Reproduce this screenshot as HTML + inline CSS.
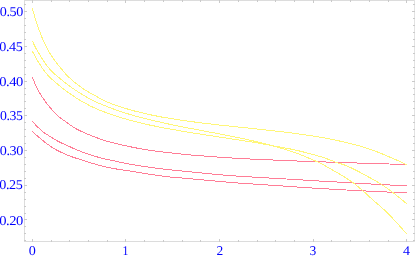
<!DOCTYPE html>
<html><head><meta charset="utf-8"><title>plot</title>
<style>
html,body{margin:0;padding:0;background:#fff;}
body{width:415px;height:258px;overflow:hidden;font-family:"Liberation Serif",serif;}
svg{display:block;position:absolute;left:0;top:0;}
</style></head><body>
<svg width="415" height="258" viewBox="0 0 415 258">
<rect width="415" height="258" fill="#ffffff"/>
<path d="M32.40,77.10 L33.40,79.76 L34.40,82.25 L35.40,84.58 L36.40,86.77 L37.40,88.79 L38.40,90.65 L39.40,92.39 L40.40,94.08 L41.40,95.70 L42.40,97.26 L43.40,98.77 L44.40,100.23 L45.40,101.67 L46.40,103.05 L47.40,104.33 L48.40,105.58 L49.40,106.78 L50.40,107.95 L51.40,109.09 L52.40,110.19 L53.40,111.27 L54.40,112.31 L55.40,113.32 L56.40,114.32 L57.40,115.28 L58.40,116.21 L59.40,117.09 L60.40,117.92 L61.40,118.68 L62.40,119.37 L63.40,120.05 L64.40,120.76 L65.40,121.48 L66.40,122.22 L67.40,122.95 L68.40,123.67 L69.40,124.39 L70.40,125.10 L71.40,125.81 L72.40,126.51 L73.40,127.18 L74.40,127.80 L75.40,128.38 L76.40,128.93 L77.40,129.46 L78.40,129.98 L79.40,130.47 L80.40,130.96 L81.40,131.43 L82.40,131.89 L83.40,132.35 L84.40,132.80 L85.40,133.24 L86.40,133.68 L87.40,134.10 L88.40,134.51 L89.40,134.92 L90.40,135.32 L91.40,135.72 L92.40,136.10 L93.40,136.48 L94.40,136.86 L95.40,137.24 L96.40,137.61 L97.40,137.98 L98.40,138.35 L99.40,138.71 L100.40,139.07 L101.40,139.42 L102.40,139.76 L103.40,140.09 L104.40,140.41 L105.40,140.72 L106.40,141.02 L107.40,141.30 L108.40,141.58 L109.40,141.86 L110.40,142.13 L111.40,142.40 L112.40,142.66 L113.40,142.91 L114.40,143.16 L115.40,143.41 L116.40,143.65 L117.40,143.89 L118.40,144.13 L119.40,144.36 L120.40,144.59 L121.40,144.82 L122.40,145.04 L123.40,145.26 L124.40,145.48 L125.40,145.70 L126.40,145.92 L127.40,146.13 L128.40,146.35 L129.40,146.56 L130.40,146.77 L131.40,146.98 L132.40,147.19 L133.40,147.39 L134.40,147.60 L135.40,147.80 L136.40,147.99 L137.40,148.19 L138.40,148.38 L139.40,148.57 L140.40,148.75 L141.40,148.93 L142.40,149.11 L143.40,149.28 L144.40,149.44 L145.40,149.61 L146.40,149.76 L147.40,149.92 L148.40,150.07 L149.40,150.21 L150.40,150.36 L151.40,150.50 L152.40,150.64 L153.40,150.77 L154.40,150.91 L155.40,151.04 L156.40,151.17 L157.40,151.29 L158.40,151.42 L159.40,151.54 L160.40,151.67 L161.40,151.79 L162.40,151.91 L163.40,152.03 L164.40,152.15 L165.40,152.27 L166.40,152.38 L167.40,152.50 L168.40,152.62 L169.40,152.73 L170.40,152.85 L171.40,152.96 L172.40,153.08 L173.40,153.19 L174.40,153.30 L175.40,153.41 L176.40,153.52 L177.40,153.63 L178.40,153.74 L179.40,153.85 L180.40,153.95 L181.40,154.06 L182.40,154.16 L183.40,154.26 L184.40,154.36 L185.40,154.46 L186.40,154.56 L187.40,154.66 L188.40,154.75 L189.40,154.85 L190.40,154.94 L191.40,155.03 L192.40,155.11 L193.40,155.20 L194.40,155.28 L195.40,155.36 L196.40,155.44 L197.40,155.52 L198.40,155.60 L199.40,155.67 L200.40,155.75 L201.40,155.83 L202.40,155.90 L203.40,155.98 L204.40,156.05 L205.40,156.13 L206.40,156.21 L207.40,156.28 L208.40,156.36 L209.40,156.43 L210.40,156.51 L211.40,156.58 L212.40,156.65 L213.40,156.73 L214.40,156.80 L215.40,156.87 L216.40,156.94 L217.40,157.01 L218.40,157.08 L219.40,157.16 L220.40,157.23 L221.40,157.30 L222.40,157.37 L223.40,157.44 L224.40,157.50 L225.40,157.57 L226.40,157.64 L227.40,157.71 L228.40,157.77 L229.40,157.84 L230.40,157.90 L231.40,157.96 L232.40,158.02 L233.40,158.09 L234.40,158.15 L235.40,158.20 L236.40,158.26 L237.40,158.32 L238.40,158.38 L239.40,158.44 L240.40,158.49 L241.40,158.55 L242.40,158.60 L243.40,158.66 L244.40,158.71 L245.40,158.77 L246.40,158.82 L247.40,158.87 L248.40,158.92 L249.40,158.97 L250.40,159.02 L251.40,159.07 L252.40,159.12 L253.40,159.16 L254.40,159.21 L255.40,159.25 L256.40,159.30 L257.40,159.34 L258.40,159.39 L259.40,159.43 L260.40,159.47 L261.40,159.51 L262.40,159.56 L263.40,159.60 L264.40,159.64 L265.40,159.68 L266.40,159.72 L267.40,159.77 L268.40,159.81 L269.40,159.85 L270.40,159.89 L271.40,159.93 L272.40,159.97 L273.40,160.02 L274.40,160.06 L275.40,160.10 L276.40,160.15 L277.40,160.19 L278.40,160.23 L279.40,160.27 L280.40,160.32 L281.40,160.36 L282.40,160.40 L283.40,160.45 L284.40,160.49 L285.40,160.53 L286.40,160.57 L287.40,160.62 L288.40,160.66 L289.40,160.70 L290.40,160.74 L291.40,160.78 L292.40,160.82 L293.40,160.86 L294.40,160.90 L295.40,160.94 L296.40,160.98 L297.40,161.02 L298.40,161.05 L299.40,161.09 L300.40,161.13 L301.40,161.16 L302.40,161.20 L303.40,161.24 L304.40,161.27 L305.40,161.31 L306.40,161.34 L307.40,161.38 L308.40,161.41 L309.40,161.44 L310.40,161.48 L311.40,161.51 L312.40,161.55 L313.40,161.58 L314.40,161.61 L315.40,161.65 L316.40,161.68 L317.40,161.71 L318.40,161.75 L319.40,161.78 L320.40,161.81 L321.40,161.85 L322.40,161.88 L323.40,161.91 L324.40,161.95 L325.40,161.98 L326.40,162.01 L327.40,162.05 L328.40,162.08 L329.40,162.11 L330.40,162.15 L331.40,162.18 L332.40,162.21 L333.40,162.24 L334.40,162.28 L335.40,162.31 L336.40,162.34 L337.40,162.37 L338.40,162.41 L339.40,162.44 L340.40,162.47 L341.40,162.50 L342.40,162.54 L343.40,162.57 L344.40,162.60 L345.40,162.63 L346.40,162.66 L347.40,162.70 L348.40,162.73 L349.40,162.76 L350.40,162.79 L351.40,162.82 L352.40,162.85 L353.40,162.89 L354.40,162.92 L355.40,162.95 L356.40,162.98 L357.40,163.01 L358.40,163.04 L359.40,163.08 L360.40,163.11 L361.40,163.14 L362.40,163.17 L363.40,163.20 L364.40,163.23 L365.40,163.26 L366.40,163.30 L367.40,163.33 L368.40,163.36 L369.40,163.39 L370.40,163.42 L371.40,163.45 L372.40,163.48 L373.40,163.51 L374.40,163.54 L375.40,163.57 L376.40,163.61 L377.40,163.64 L378.40,163.67 L379.40,163.70 L380.40,163.73 L381.40,163.76 L382.40,163.79 L383.40,163.82 L384.40,163.85 L385.40,163.88 L386.40,163.91 L387.40,163.94 L388.40,163.97 L389.40,164.00 L390.40,164.03 L391.40,164.06 L392.40,164.09 L393.40,164.12 L394.40,164.15 L395.40,164.18 L396.40,164.21 L397.40,164.24 L398.40,164.27 L399.40,164.29 L400.40,164.32 L401.40,164.35 L402.40,164.38 L403.40,164.41 L404.40,164.44 L405.40,164.47 L406.40,164.50 L406.50,164.50" fill="none" stroke="rgb(255,125,150)" stroke-width="1.0" shape-rendering="crispEdges"/>
<path d="M32.40,120.90 L33.40,122.26 L34.40,123.53 L35.40,124.67 L36.40,125.73 L37.40,126.73 L38.40,127.69 L39.40,128.62 L40.40,129.54 L41.40,130.45 L42.40,131.33 L43.40,132.16 L44.40,132.93 L45.40,133.62 L46.40,134.25 L47.40,134.85 L48.40,135.45 L49.40,136.08 L50.40,136.73 L51.40,137.39 L52.40,138.03 L53.40,138.66 L54.40,139.26 L55.40,139.83 L56.40,140.38 L57.40,140.92 L58.40,141.44 L59.40,141.95 L60.40,142.44 L61.40,142.92 L62.40,143.38 L63.40,143.83 L64.40,144.29 L65.40,144.74 L66.40,145.19 L67.40,145.64 L68.40,146.08 L69.40,146.54 L70.40,147.00 L71.40,147.46 L72.40,147.93 L73.40,148.38 L74.40,148.82 L75.40,149.24 L76.40,149.66 L77.40,150.07 L78.40,150.47 L79.40,150.88 L80.40,151.29 L81.40,151.70 L82.40,152.11 L83.40,152.51 L84.40,152.89 L85.40,153.25 L86.40,153.59 L87.40,153.93 L88.40,154.26 L89.40,154.58 L90.40,154.89 L91.40,155.20 L92.40,155.50 L93.40,155.80 L94.40,156.10 L95.40,156.40 L96.40,156.69 L97.40,156.99 L98.40,157.28 L99.40,157.56 L100.40,157.84 L101.40,158.12 L102.40,158.38 L103.40,158.63 L104.40,158.87 L105.40,159.10 L106.40,159.32 L107.40,159.53 L108.40,159.74 L109.40,159.94 L110.40,160.14 L111.40,160.34 L112.40,160.53 L113.40,160.73 L114.40,160.94 L115.40,161.15 L116.40,161.36 L117.40,161.57 L118.40,161.79 L119.40,162.01 L120.40,162.22 L121.40,162.44 L122.40,162.65 L123.40,162.86 L124.40,163.06 L125.40,163.26 L126.40,163.46 L127.40,163.65 L128.40,163.83 L129.40,164.01 L130.40,164.19 L131.40,164.37 L132.40,164.54 L133.40,164.71 L134.40,164.88 L135.40,165.05 L136.40,165.22 L137.40,165.38 L138.40,165.54 L139.40,165.70 L140.40,165.86 L141.40,166.01 L142.40,166.17 L143.40,166.32 L144.40,166.47 L145.40,166.62 L146.40,166.77 L147.40,166.91 L148.40,167.06 L149.40,167.20 L150.40,167.34 L151.40,167.48 L152.40,167.62 L153.40,167.76 L154.40,167.90 L155.40,168.03 L156.40,168.16 L157.40,168.29 L158.40,168.42 L159.40,168.55 L160.40,168.68 L161.40,168.80 L162.40,168.93 L163.40,169.05 L164.40,169.17 L165.40,169.29 L166.40,169.40 L167.40,169.52 L168.40,169.63 L169.40,169.74 L170.40,169.85 L171.40,169.96 L172.40,170.07 L173.40,170.17 L174.40,170.27 L175.40,170.38 L176.40,170.48 L177.40,170.58 L178.40,170.67 L179.40,170.77 L180.40,170.87 L181.40,170.97 L182.40,171.06 L183.40,171.16 L184.40,171.26 L185.40,171.36 L186.40,171.45 L187.40,171.55 L188.40,171.65 L189.40,171.75 L190.40,171.85 L191.40,171.95 L192.40,172.05 L193.40,172.15 L194.40,172.25 L195.40,172.35 L196.40,172.45 L197.40,172.56 L198.40,172.66 L199.40,172.76 L200.40,172.86 L201.40,172.96 L202.40,173.06 L203.40,173.15 L204.40,173.25 L205.40,173.35 L206.40,173.45 L207.40,173.54 L208.40,173.64 L209.40,173.73 L210.40,173.83 L211.40,173.92 L212.40,174.02 L213.40,174.11 L214.40,174.21 L215.40,174.30 L216.40,174.39 L217.40,174.49 L218.40,174.58 L219.40,174.67 L220.40,174.76 L221.40,174.85 L222.40,174.94 L223.40,175.03 L224.40,175.12 L225.40,175.20 L226.40,175.29 L227.40,175.37 L228.40,175.45 L229.40,175.53 L230.40,175.61 L231.40,175.68 L232.40,175.76 L233.40,175.83 L234.40,175.90 L235.40,175.97 L236.40,176.04 L237.40,176.11 L238.40,176.17 L239.40,176.24 L240.40,176.30 L241.40,176.37 L242.40,176.43 L243.40,176.50 L244.40,176.56 L245.40,176.62 L246.40,176.68 L247.40,176.75 L248.40,176.81 L249.40,176.87 L250.40,176.93 L251.40,176.99 L252.40,177.05 L253.40,177.11 L254.40,177.17 L255.40,177.23 L256.40,177.29 L257.40,177.34 L258.40,177.40 L259.40,177.46 L260.40,177.51 L261.40,177.57 L262.40,177.63 L263.40,177.68 L264.40,177.74 L265.40,177.79 L266.40,177.85 L267.40,177.90 L268.40,177.96 L269.40,178.02 L270.40,178.07 L271.40,178.13 L272.40,178.19 L273.40,178.25 L274.40,178.30 L275.40,178.36 L276.40,178.42 L277.40,178.48 L278.40,178.54 L279.40,178.59 L280.40,178.65 L281.40,178.71 L282.40,178.77 L283.40,178.83 L284.40,178.88 L285.40,178.94 L286.40,179.00 L287.40,179.06 L288.40,179.12 L289.40,179.18 L290.40,179.24 L291.40,179.30 L292.40,179.36 L293.40,179.42 L294.40,179.48 L295.40,179.54 L296.40,179.60 L297.40,179.66 L298.40,179.73 L299.40,179.79 L300.40,179.85 L301.40,179.92 L302.40,179.98 L303.40,180.04 L304.40,180.11 L305.40,180.17 L306.40,180.24 L307.40,180.30 L308.40,180.36 L309.40,180.43 L310.40,180.49 L311.40,180.55 L312.40,180.62 L313.40,180.68 L314.40,180.74 L315.40,180.80 L316.40,180.86 L317.40,180.92 L318.40,180.98 L319.40,181.03 L320.40,181.09 L321.40,181.15 L322.40,181.20 L323.40,181.26 L324.40,181.31 L325.40,181.36 L326.40,181.42 L327.40,181.47 L328.40,181.52 L329.40,181.58 L330.40,181.63 L331.40,181.68 L332.40,181.74 L333.40,181.79 L334.40,181.84 L335.40,181.90 L336.40,181.95 L337.40,182.01 L338.40,182.07 L339.40,182.13 L340.40,182.19 L341.40,182.24 L342.40,182.30 L343.40,182.36 L344.40,182.42 L345.40,182.48 L346.40,182.54 L347.40,182.60 L348.40,182.66 L349.40,182.72 L350.40,182.78 L351.40,182.84 L352.40,182.90 L353.40,182.96 L354.40,183.02 L355.40,183.08 L356.40,183.14 L357.40,183.20 L358.40,183.26 L359.40,183.32 L360.40,183.38 L361.40,183.44 L362.40,183.50 L363.40,183.56 L364.40,183.62 L365.40,183.68 L366.40,183.74 L367.40,183.79 L368.40,183.85 L369.40,183.91 L370.40,183.97 L371.40,184.02 L372.40,184.08 L373.40,184.13 L374.40,184.19 L375.40,184.24 L376.40,184.30 L377.40,184.35 L378.40,184.41 L379.40,184.46 L380.40,184.51 L381.40,184.57 L382.40,184.62 L383.40,184.67 L384.40,184.73 L385.40,184.78 L386.40,184.83 L387.40,184.89 L388.40,184.94 L389.40,184.99 L390.40,185.05 L391.40,185.10 L392.40,185.15 L393.40,185.21 L394.40,185.26 L395.40,185.31 L396.40,185.37 L397.40,185.42 L398.40,185.47 L399.40,185.53 L400.40,185.58 L401.40,185.63 L402.40,185.68 L403.40,185.74 L404.40,185.79 L405.40,185.84 L406.40,185.89 L406.50,185.90" fill="none" stroke="rgb(255,125,150)" stroke-width="1.0" shape-rendering="crispEdges"/>
<path d="M32.40,131.10 L33.40,132.23 L34.40,133.30 L35.40,134.28 L36.40,135.19 L37.40,136.06 L38.40,136.91 L39.40,137.75 L40.40,138.59 L41.40,139.43 L42.40,140.25 L43.40,141.06 L44.40,141.85 L45.40,142.61 L46.40,143.35 L47.40,144.08 L48.40,144.79 L49.40,145.49 L50.40,146.19 L51.40,146.88 L52.40,147.56 L53.40,148.22 L54.40,148.84 L55.40,149.42 L56.40,149.97 L57.40,150.50 L58.40,151.00 L59.40,151.50 L60.40,151.98 L61.40,152.45 L62.40,152.90 L63.40,153.35 L64.40,153.79 L65.40,154.23 L66.40,154.67 L67.40,155.11 L68.40,155.52 L69.40,155.92 L70.40,156.29 L71.40,156.65 L72.40,157.00 L73.40,157.33 L74.40,157.66 L75.40,157.98 L76.40,158.28 L77.40,158.59 L78.40,158.89 L79.40,159.20 L80.40,159.53 L81.40,159.87 L82.40,160.22 L83.40,160.57 L84.40,160.90 L85.40,161.22 L86.40,161.54 L87.40,161.85 L88.40,162.15 L89.40,162.45 L90.40,162.75 L91.40,163.04 L92.40,163.33 L93.40,163.62 L94.40,163.90 L95.40,164.18 L96.40,164.47 L97.40,164.75 L98.40,165.02 L99.40,165.30 L100.40,165.57 L101.40,165.83 L102.40,166.09 L103.40,166.33 L104.40,166.57 L105.40,166.80 L106.40,167.03 L107.40,167.25 L108.40,167.46 L109.40,167.68 L110.40,167.88 L111.40,168.08 L112.40,168.28 L113.40,168.46 L114.40,168.65 L115.40,168.82 L116.40,168.99 L117.40,169.15 L118.40,169.31 L119.40,169.46 L120.40,169.61 L121.40,169.75 L122.40,169.90 L123.40,170.04 L124.40,170.19 L125.40,170.34 L126.40,170.49 L127.40,170.65 L128.40,170.81 L129.40,170.97 L130.40,171.13 L131.40,171.30 L132.40,171.46 L133.40,171.63 L134.40,171.80 L135.40,171.97 L136.40,172.13 L137.40,172.30 L138.40,172.47 L139.40,172.64 L140.40,172.80 L141.40,172.97 L142.40,173.13 L143.40,173.29 L144.40,173.45 L145.40,173.61 L146.40,173.76 L147.40,173.92 L148.40,174.07 L149.40,174.22 L150.40,174.37 L151.40,174.52 L152.40,174.67 L153.40,174.82 L154.40,174.97 L155.40,175.12 L156.40,175.26 L157.40,175.41 L158.40,175.55 L159.40,175.69 L160.40,175.83 L161.40,175.97 L162.40,176.10 L163.40,176.23 L164.40,176.35 L165.40,176.47 L166.40,176.59 L167.40,176.70 L168.40,176.81 L169.40,176.91 L170.40,177.01 L171.40,177.11 L172.40,177.21 L173.40,177.30 L174.40,177.39 L175.40,177.48 L176.40,177.57 L177.40,177.66 L178.40,177.74 L179.40,177.83 L180.40,177.91 L181.40,177.99 L182.40,178.08 L183.40,178.16 L184.40,178.25 L185.40,178.33 L186.40,178.42 L187.40,178.50 L188.40,178.59 L189.40,178.68 L190.40,178.77 L191.40,178.87 L192.40,178.96 L193.40,179.05 L194.40,179.14 L195.40,179.24 L196.40,179.33 L197.40,179.42 L198.40,179.52 L199.40,179.61 L200.40,179.71 L201.40,179.80 L202.40,179.89 L203.40,179.99 L204.40,180.08 L205.40,180.17 L206.40,180.26 L207.40,180.36 L208.40,180.45 L209.40,180.54 L210.40,180.63 L211.40,180.72 L212.40,180.81 L213.40,180.90 L214.40,180.99 L215.40,181.08 L216.40,181.17 L217.40,181.26 L218.40,181.35 L219.40,181.44 L220.40,181.53 L221.40,181.62 L222.40,181.71 L223.40,181.80 L224.40,181.89 L225.40,181.98 L226.40,182.06 L227.40,182.15 L228.40,182.24 L229.40,182.32 L230.40,182.41 L231.40,182.49 L232.40,182.57 L233.40,182.65 L234.40,182.73 L235.40,182.81 L236.40,182.89 L237.40,182.96 L238.40,183.04 L239.40,183.11 L240.40,183.18 L241.40,183.25 L242.40,183.32 L243.40,183.38 L244.40,183.45 L245.40,183.51 L246.40,183.58 L247.40,183.64 L248.40,183.70 L249.40,183.77 L250.40,183.83 L251.40,183.90 L252.40,183.96 L253.40,184.03 L254.40,184.09 L255.40,184.16 L256.40,184.22 L257.40,184.29 L258.40,184.35 L259.40,184.42 L260.40,184.48 L261.40,184.55 L262.40,184.62 L263.40,184.68 L264.40,184.75 L265.40,184.81 L266.40,184.88 L267.40,184.95 L268.40,185.01 L269.40,185.08 L270.40,185.15 L271.40,185.22 L272.40,185.29 L273.40,185.36 L274.40,185.42 L275.40,185.49 L276.40,185.56 L277.40,185.63 L278.40,185.70 L279.40,185.77 L280.40,185.84 L281.40,185.91 L282.40,185.98 L283.40,186.05 L284.40,186.12 L285.40,186.19 L286.40,186.26 L287.40,186.32 L288.40,186.39 L289.40,186.46 L290.40,186.53 L291.40,186.60 L292.40,186.67 L293.40,186.74 L294.40,186.81 L295.40,186.88 L296.40,186.95 L297.40,187.01 L298.40,187.08 L299.40,187.15 L300.40,187.22 L301.40,187.29 L302.40,187.36 L303.40,187.43 L304.40,187.49 L305.40,187.56 L306.40,187.63 L307.40,187.70 L308.40,187.76 L309.40,187.83 L310.40,187.90 L311.40,187.96 L312.40,188.03 L313.40,188.09 L314.40,188.15 L315.40,188.21 L316.40,188.28 L317.40,188.34 L318.40,188.40 L319.40,188.46 L320.40,188.52 L321.40,188.58 L322.40,188.64 L323.40,188.70 L324.40,188.76 L325.40,188.82 L326.40,188.88 L327.40,188.94 L328.40,188.99 L329.40,189.05 L330.40,189.11 L331.40,189.17 L332.40,189.23 L333.40,189.28 L334.40,189.34 L335.40,189.40 L336.40,189.45 L337.40,189.51 L338.40,189.56 L339.40,189.62 L340.40,189.67 L341.40,189.73 L342.40,189.78 L343.40,189.84 L344.40,189.89 L345.40,189.95 L346.40,190.00 L347.40,190.05 L348.40,190.11 L349.40,190.16 L350.40,190.21 L351.40,190.26 L352.40,190.31 L353.40,190.37 L354.40,190.42 L355.40,190.47 L356.40,190.52 L357.40,190.57 L358.40,190.62 L359.40,190.67 L360.40,190.72 L361.40,190.77 L362.40,190.82 L363.40,190.87 L364.40,190.92 L365.40,190.97 L366.40,191.02 L367.40,191.07 L368.40,191.12 L369.40,191.17 L370.40,191.22 L371.40,191.27 L372.40,191.32 L373.40,191.37 L374.40,191.41 L375.40,191.46 L376.40,191.51 L377.40,191.56 L378.40,191.61 L379.40,191.66 L380.40,191.71 L381.40,191.75 L382.40,191.80 L383.40,191.85 L384.40,191.90 L385.40,191.94 L386.40,191.99 L387.40,192.04 L388.40,192.08 L389.40,192.13 L390.40,192.18 L391.40,192.22 L392.40,192.27 L393.40,192.31 L394.40,192.36 L395.40,192.41 L396.40,192.45 L397.40,192.50 L398.40,192.54 L399.40,192.59 L400.40,192.63 L401.40,192.68 L402.40,192.72 L403.40,192.76 L404.40,192.81 L405.40,192.85 L406.40,192.90 L406.50,192.90" fill="none" stroke="rgb(255,125,150)" stroke-width="1.0" shape-rendering="crispEdges"/>
<path d="M32.40,8.40 L33.40,12.16 L34.40,15.70 L35.40,19.16 L36.40,22.58 L37.40,25.46 L38.40,28.32 L39.40,30.95 L40.40,33.31 L41.40,35.89 L42.40,38.46 L43.40,40.70 L44.40,42.77 L45.40,44.82 L46.40,46.84 L47.40,48.80 L48.40,50.73 L49.40,52.54 L50.40,54.03 L51.40,55.45 L52.40,56.98 L53.40,58.52 L54.40,59.98 L55.40,61.36 L56.40,62.69 L57.40,63.99 L58.40,65.29 L59.40,66.56 L60.40,67.80 L61.40,68.98 L62.40,70.10 L63.40,71.22 L64.40,72.42 L65.40,73.73 L66.40,74.91 L67.40,75.87 L68.40,76.75 L69.40,77.62 L70.40,78.58 L71.40,79.57 L72.40,80.50 L73.40,81.33 L74.40,82.12 L75.40,82.87 L76.40,83.62 L77.40,84.38 L78.40,85.16 L79.40,85.95 L80.40,86.74 L81.40,87.49 L82.40,88.21 L83.40,88.90 L84.40,89.56 L85.40,90.21 L86.40,90.83 L87.40,91.44 L88.40,92.02 L89.40,92.59 L90.40,93.14 L91.40,93.69 L92.40,94.24 L93.40,94.78 L94.40,95.32 L95.40,95.86 L96.40,96.41 L97.40,96.97 L98.40,97.53 L99.40,98.10 L100.40,98.66 L101.40,99.21 L102.40,99.74 L103.40,100.25 L104.40,100.72 L105.40,101.19 L106.40,101.68 L107.40,102.13 L108.40,102.52 L109.40,102.89 L110.40,103.26 L111.40,103.63 L112.40,104.00 L113.40,104.40 L114.40,104.80 L115.40,105.19 L116.40,105.58 L117.40,105.93 L118.40,106.24 L119.40,106.52 L120.40,106.80 L121.40,107.09 L122.40,107.41 L123.40,107.74 L124.40,108.06 L125.40,108.37 L126.40,108.67 L127.40,108.97 L128.40,109.27 L129.40,109.56 L130.40,109.86 L131.40,110.14 L132.40,110.43 L133.40,110.71 L134.40,110.97 L135.40,111.23 L136.40,111.47 L137.40,111.71 L138.40,111.95 L139.40,112.20 L140.40,112.44 L141.40,112.69 L142.40,112.93 L143.40,113.16 L144.40,113.39 L145.40,113.62 L146.40,113.84 L147.40,114.07 L148.40,114.30 L149.40,114.53 L150.40,114.76 L151.40,114.98 L152.40,115.19 L153.40,115.39 L154.40,115.59 L155.40,115.78 L156.40,115.98 L157.40,116.18 L158.40,116.39 L159.40,116.59 L160.40,116.79 L161.40,116.98 L162.40,117.16 L163.40,117.33 L164.40,117.49 L165.40,117.65 L166.40,117.81 L167.40,117.97 L168.40,118.13 L169.40,118.30 L170.40,118.46 L171.40,118.63 L172.40,118.79 L173.40,118.95 L174.40,119.11 L175.40,119.26 L176.40,119.42 L177.40,119.57 L178.40,119.72 L179.40,119.87 L180.40,120.01 L181.40,120.16 L182.40,120.31 L183.40,120.45 L184.40,120.59 L185.40,120.73 L186.40,120.87 L187.40,121.01 L188.40,121.16 L189.40,121.30 L190.40,121.44 L191.40,121.58 L192.40,121.72 L193.40,121.85 L194.40,121.99 L195.40,122.12 L196.40,122.25 L197.40,122.38 L198.40,122.50 L199.40,122.63 L200.40,122.75 L201.40,122.88 L202.40,123.00 L203.40,123.12 L204.40,123.25 L205.40,123.37 L206.40,123.49 L207.40,123.61 L208.40,123.73 L209.40,123.85 L210.40,123.98 L211.40,124.10 L212.40,124.22 L213.40,124.34 L214.40,124.47 L215.40,124.59 L216.40,124.71 L217.40,124.83 L218.40,124.94 L219.40,125.06 L220.40,125.16 L221.40,125.27 L222.40,125.38 L223.40,125.48 L224.40,125.58 L225.40,125.68 L226.40,125.78 L227.40,125.89 L228.40,125.99 L229.40,126.09 L230.40,126.20 L231.40,126.30 L232.40,126.40 L233.40,126.51 L234.40,126.61 L235.40,126.71 L236.40,126.81 L237.40,126.92 L238.40,127.02 L239.40,127.12 L240.40,127.23 L241.40,127.33 L242.40,127.44 L243.40,127.54 L244.40,127.64 L245.40,127.75 L246.40,127.85 L247.40,127.96 L248.40,128.06 L249.40,128.17 L250.40,128.27 L251.40,128.38 L252.40,128.48 L253.40,128.59 L254.40,128.70 L255.40,128.80 L256.40,128.91 L257.40,129.02 L258.40,129.13 L259.40,129.25 L260.40,129.37 L261.40,129.48 L262.40,129.60 L263.40,129.72 L264.40,129.83 L265.40,129.94 L266.40,130.05 L267.40,130.16 L268.40,130.27 L269.40,130.37 L270.40,130.48 L271.40,130.58 L272.40,130.69 L273.40,130.79 L274.40,130.90 L275.40,131.01 L276.40,131.12 L277.40,131.24 L278.40,131.35 L279.40,131.47 L280.40,131.59 L281.40,131.71 L282.40,131.83 L283.40,131.95 L284.40,132.07 L285.40,132.20 L286.40,132.32 L287.40,132.44 L288.40,132.57 L289.40,132.69 L290.40,132.82 L291.40,132.95 L292.40,133.08 L293.40,133.21 L294.40,133.34 L295.40,133.47 L296.40,133.60 L297.40,133.73 L298.40,133.86 L299.40,134.00 L300.40,134.14 L301.40,134.28 L302.40,134.42 L303.40,134.57 L304.40,134.71 L305.40,134.86 L306.40,135.00 L307.40,135.14 L308.40,135.29 L309.40,135.43 L310.40,135.57 L311.40,135.72 L312.40,135.86 L313.40,136.02 L314.40,136.17 L315.40,136.33 L316.40,136.49 L317.40,136.66 L318.40,136.83 L319.40,137.00 L320.40,137.17 L321.40,137.35 L322.40,137.53 L323.40,137.72 L324.40,137.91 L325.40,138.10 L326.40,138.29 L327.40,138.49 L328.40,138.70 L329.40,138.90 L330.40,139.10 L331.40,139.30 L332.40,139.51 L333.40,139.71 L334.40,139.92 L335.40,140.13 L336.40,140.34 L337.40,140.55 L338.40,140.76 L339.40,140.98 L340.40,141.19 L341.40,141.41 L342.40,141.62 L343.40,141.84 L344.40,142.07 L345.40,142.31 L346.40,142.56 L347.40,142.80 L348.40,143.05 L349.40,143.29 L350.40,143.52 L351.40,143.76 L352.40,143.99 L353.40,144.24 L354.40,144.48 L355.40,144.75 L356.40,145.02 L357.40,145.30 L358.40,145.58 L359.40,145.88 L360.40,146.17 L361.40,146.48 L362.40,146.79 L363.40,147.10 L364.40,147.42 L365.40,147.75 L366.40,148.07 L367.40,148.41 L368.40,148.75 L369.40,149.09 L370.40,149.43 L371.40,149.78 L372.40,150.14 L373.40,150.49 L374.40,150.86 L375.40,151.23 L376.40,151.61 L377.40,151.99 L378.40,152.38 L379.40,152.77 L380.40,153.17 L381.40,153.58 L382.40,153.98 L383.40,154.39 L384.40,154.81 L385.40,155.23 L386.40,155.65 L387.40,156.07 L388.40,156.49 L389.40,156.92 L390.40,157.34 L391.40,157.77 L392.40,158.20 L393.40,158.63 L394.40,159.07 L395.40,159.50 L396.40,159.95 L397.40,160.39 L398.40,160.84 L399.40,161.30 L400.40,161.75 L401.40,162.21 L402.40,162.67 L403.40,163.14 L404.40,163.61 L405.40,164.08 L406.40,164.55 L406.50,164.60" fill="none" stroke="rgb(255,246,120)" stroke-width="1.0" shape-rendering="crispEdges"/>
<path d="M32.40,41.10 L33.40,43.17 L34.40,45.20 L35.40,47.24 L36.40,49.18 L37.40,51.02 L38.40,52.70 L39.40,54.11 L40.40,55.67 L41.40,57.37 L42.40,59.04 L43.40,60.62 L44.40,62.15 L45.40,63.60 L46.40,64.97 L47.40,66.28 L48.40,67.52 L49.40,68.71 L50.40,69.84 L51.40,70.90 L52.40,71.90 L53.40,72.85 L54.40,73.76 L55.40,74.65 L56.40,75.50 L57.40,76.33 L58.40,77.15 L59.40,77.97 L60.40,78.80 L61.40,79.65 L62.40,80.50 L63.40,81.34 L64.40,82.16 L65.40,82.96 L66.40,83.75 L67.40,84.53 L68.40,85.29 L69.40,86.03 L70.40,86.73 L71.40,87.41 L72.40,88.08 L73.40,88.74 L74.40,89.40 L75.40,90.07 L76.40,90.75 L77.40,91.42 L78.40,92.08 L79.40,92.73 L80.40,93.36 L81.40,93.97 L82.40,94.58 L83.40,95.18 L84.40,95.78 L85.40,96.36 L86.40,96.94 L87.40,97.53 L88.40,98.11 L89.40,98.70 L90.40,99.26 L91.40,99.80 L92.40,100.31 L93.40,100.81 L94.40,101.29 L95.40,101.76 L96.40,102.21 L97.40,102.65 L98.40,103.08 L99.40,103.49 L100.40,103.88 L101.40,104.27 L102.40,104.65 L103.40,105.04 L104.40,105.48 L105.40,105.92 L106.40,106.31 L107.40,106.67 L108.40,107.04 L109.40,107.40 L110.40,107.77 L111.40,108.16 L112.40,108.59 L113.40,109.00 L114.40,109.38 L115.40,109.75 L116.40,110.11 L117.40,110.45 L118.40,110.79 L119.40,111.14 L120.40,111.49 L121.40,111.84 L122.40,112.16 L123.40,112.46 L124.40,112.76 L125.40,113.06 L126.40,113.36 L127.40,113.66 L128.40,113.97 L129.40,114.29 L130.40,114.62 L131.40,114.94 L132.40,115.22 L133.40,115.49 L134.40,115.74 L135.40,116.00 L136.40,116.26 L137.40,116.53 L138.40,116.79 L139.40,117.05 L140.40,117.32 L141.40,117.58 L142.40,117.84 L143.40,118.10 L144.40,118.36 L145.40,118.61 L146.40,118.85 L147.40,119.10 L148.40,119.33 L149.40,119.56 L150.40,119.79 L151.40,120.02 L152.40,120.27 L153.40,120.53 L154.40,120.78 L155.40,121.02 L156.40,121.26 L157.40,121.48 L158.40,121.71 L159.40,121.93 L160.40,122.16 L161.40,122.39 L162.40,122.61 L163.40,122.84 L164.40,123.07 L165.40,123.31 L166.40,123.54 L167.40,123.78 L168.40,124.00 L169.40,124.21 L170.40,124.41 L171.40,124.60 L172.40,124.80 L173.40,125.00 L174.40,125.22 L175.40,125.44 L176.40,125.67 L177.40,125.89 L178.40,126.10 L179.40,126.31 L180.40,126.51 L181.40,126.71 L182.40,126.90 L183.40,127.10 L184.40,127.29 L185.40,127.49 L186.40,127.68 L187.40,127.87 L188.40,128.06 L189.40,128.24 L190.40,128.42 L191.40,128.60 L192.40,128.78 L193.40,128.96 L194.40,129.15 L195.40,129.34 L196.40,129.52 L197.40,129.71 L198.40,129.90 L199.40,130.10 L200.40,130.29 L201.40,130.49 L202.40,130.69 L203.40,130.88 L204.40,131.08 L205.40,131.27 L206.40,131.47 L207.40,131.66 L208.40,131.85 L209.40,132.04 L210.40,132.21 L211.40,132.38 L212.40,132.55 L213.40,132.72 L214.40,132.89 L215.40,133.07 L216.40,133.26 L217.40,133.45 L218.40,133.65 L219.40,133.84 L220.40,134.04 L221.40,134.24 L222.40,134.44 L223.40,134.65 L224.40,134.86 L225.40,135.06 L226.40,135.27 L227.40,135.48 L228.40,135.69 L229.40,135.90 L230.40,136.10 L231.40,136.29 L232.40,136.47 L233.40,136.66 L234.40,136.84 L235.40,137.04 L236.40,137.24 L237.40,137.45 L238.40,137.66 L239.40,137.87 L240.40,138.08 L241.40,138.29 L242.40,138.49 L243.40,138.70 L244.40,138.91 L245.40,139.13 L246.40,139.36 L247.40,139.60 L248.40,139.84 L249.40,140.07 L250.40,140.30 L251.40,140.53 L252.40,140.77 L253.40,141.00 L254.40,141.24 L255.40,141.47 L256.40,141.71 L257.40,141.95 L258.40,142.19 L259.40,142.44 L260.40,142.68 L261.40,142.93 L262.40,143.17 L263.40,143.41 L264.40,143.65 L265.40,143.90 L266.40,144.15 L267.40,144.41 L268.40,144.66 L269.40,144.92 L270.40,145.18 L271.40,145.44 L272.40,145.70 L273.40,145.97 L274.40,146.25 L275.40,146.54 L276.40,146.83 L277.40,147.11 L278.40,147.40 L279.40,147.69 L280.40,147.97 L281.40,148.26 L282.40,148.54 L283.40,148.83 L284.40,149.12 L285.40,149.42 L286.40,149.72 L287.40,150.03 L288.40,150.36 L289.40,150.69 L290.40,151.03 L291.40,151.37 L292.40,151.72 L293.40,152.07 L294.40,152.43 L295.40,152.80 L296.40,153.17 L297.40,153.55 L298.40,153.92 L299.40,154.31 L300.40,154.69 L301.40,155.08 L302.40,155.48 L303.40,155.87 L304.40,156.27 L305.40,156.68 L306.40,157.08 L307.40,157.50 L308.40,157.92 L309.40,158.36 L310.40,158.79 L311.40,159.21 L312.40,159.63 L313.40,160.05 L314.40,160.48 L315.40,160.91 L316.40,161.36 L317.40,161.81 L318.40,162.27 L319.40,162.75 L320.40,163.25 L321.40,163.76 L322.40,164.28 L323.40,164.82 L324.40,165.36 L325.40,165.91 L326.40,166.46 L327.40,167.03 L328.40,167.60 L329.40,168.17 L330.40,168.75 L331.40,169.33 L332.40,169.92 L333.40,170.50 L334.40,171.08 L335.40,171.67 L336.40,172.25 L337.40,172.83 L338.40,173.42 L339.40,174.01 L340.40,174.60 L341.40,175.20 L342.40,175.80 L343.40,176.41 L344.40,177.02 L345.40,177.65 L346.40,178.28 L347.40,178.92 L348.40,179.57 L349.40,180.24 L350.40,180.92 L351.40,181.61 L352.40,182.31 L353.40,183.04 L354.40,183.80 L355.40,184.57 L356.40,185.36 L357.40,186.17 L358.40,186.99 L359.40,187.83 L360.40,188.67 L361.40,189.52 L362.40,190.37 L363.40,191.24 L364.40,192.13 L365.40,193.04 L366.40,193.96 L367.40,194.89 L368.40,195.82 L369.40,196.75 L370.40,197.68 L371.40,198.59 L372.40,199.49 L373.40,200.37 L374.40,201.24 L375.40,202.09 L376.40,202.95 L377.40,203.80 L378.40,204.65 L379.40,205.52 L380.40,206.39 L381.40,207.29 L382.40,208.20 L383.40,209.13 L384.40,210.08 L385.40,211.04 L386.40,212.02 L387.40,213.01 L388.40,214.01 L389.40,215.01 L390.40,216.03 L391.40,217.06 L392.40,218.10 L393.40,219.15 L394.40,220.22 L395.40,221.29 L396.40,222.38 L397.40,223.49 L398.40,224.60 L399.40,225.71 L400.40,226.83 L401.40,227.96 L402.40,229.09 L403.40,230.22 L404.40,231.37 L405.40,232.52 L406.40,233.68 L406.50,233.80" fill="none" stroke="rgb(255,246,120)" stroke-width="1.0" shape-rendering="crispEdges"/>
<path d="M32.40,51.40 L33.40,53.23 L34.40,55.07 L35.40,56.91 L36.40,58.79 L37.40,60.59 L38.40,62.22 L39.40,63.72 L40.40,65.20 L41.40,66.74 L42.40,68.29 L43.40,69.76 L44.40,71.12 L45.40,72.40 L46.40,73.62 L47.40,74.77 L48.40,75.87 L49.40,76.92 L50.40,77.90 L51.40,78.82 L52.40,79.68 L53.40,80.52 L54.40,81.37 L55.40,82.26 L56.40,83.15 L57.40,84.04 L58.40,84.92 L59.40,85.77 L60.40,86.59 L61.40,87.39 L62.40,88.17 L63.40,88.93 L64.40,89.68 L65.40,90.41 L66.40,91.13 L67.40,91.84 L68.40,92.54 L69.40,93.23 L70.40,93.92 L71.40,94.60 L72.40,95.28 L73.40,95.96 L74.40,96.65 L75.40,97.35 L76.40,98.04 L77.40,98.68 L78.40,99.29 L79.40,99.88 L80.40,100.45 L81.40,101.03 L82.40,101.60 L83.40,102.16 L84.40,102.71 L85.40,103.26 L86.40,103.82 L87.40,104.37 L88.40,104.94 L89.40,105.54 L90.40,106.10 L91.40,106.56 L92.40,107.00 L93.40,107.44 L94.40,107.87 L95.40,108.30 L96.40,108.74 L97.40,109.17 L98.40,109.61 L99.40,110.04 L100.40,110.47 L101.40,110.88 L102.40,111.26 L103.40,111.61 L104.40,111.96 L105.40,112.33 L106.40,112.71 L107.40,113.07 L108.40,113.42 L109.40,113.76 L110.40,114.10 L111.40,114.44 L112.40,114.79 L113.40,115.15 L114.40,115.53 L115.40,115.90 L116.40,116.23 L117.40,116.53 L118.40,116.82 L119.40,117.12 L120.40,117.43 L121.40,117.73 L122.40,118.03 L123.40,118.33 L124.40,118.62 L125.40,118.91 L126.40,119.21 L127.40,119.51 L128.40,119.81 L129.40,120.08 L130.40,120.32 L131.40,120.55 L132.40,120.78 L133.40,121.03 L134.40,121.28 L135.40,121.55 L136.40,121.82 L137.40,122.08 L138.40,122.32 L139.40,122.57 L140.40,122.81 L141.40,123.05 L142.40,123.29 L143.40,123.54 L144.40,123.78 L145.40,124.02 L146.40,124.27 L147.40,124.53 L148.40,124.77 L149.40,125.00 L150.40,125.21 L151.40,125.41 L152.40,125.60 L153.40,125.79 L154.40,125.98 L155.40,126.18 L156.40,126.38 L157.40,126.59 L158.40,126.80 L159.40,127.00 L160.40,127.21 L161.40,127.41 L162.40,127.62 L163.40,127.82 L164.40,128.02 L165.40,128.21 L166.40,128.39 L167.40,128.56 L168.40,128.74 L169.40,128.91 L170.40,129.09 L171.40,129.26 L172.40,129.43 L173.40,129.61 L174.40,129.78 L175.40,129.96 L176.40,130.15 L177.40,130.35 L178.40,130.54 L179.40,130.74 L180.40,130.93 L181.40,131.10 L182.40,131.27 L183.40,131.44 L184.40,131.59 L185.40,131.75 L186.40,131.92 L187.40,132.09 L188.40,132.26 L189.40,132.44 L190.40,132.62 L191.40,132.79 L192.40,132.95 L193.40,133.11 L194.40,133.25 L195.40,133.38 L196.40,133.51 L197.40,133.65 L198.40,133.78 L199.40,133.92 L200.40,134.08 L201.40,134.25 L202.40,134.43 L203.40,134.61 L204.40,134.78 L205.40,134.95 L206.40,135.11 L207.40,135.26 L208.40,135.40 L209.40,135.54 L210.40,135.68 L211.40,135.82 L212.40,135.97 L213.40,136.13 L214.40,136.30 L215.40,136.48 L216.40,136.66 L217.40,136.83 L218.40,136.99 L219.40,137.13 L220.40,137.26 L221.40,137.38 L222.40,137.50 L223.40,137.63 L224.40,137.75 L225.40,137.89 L226.40,138.03 L227.40,138.19 L228.40,138.37 L229.40,138.55 L230.40,138.73 L231.40,138.90 L232.40,139.06 L233.40,139.21 L234.40,139.36 L235.40,139.50 L236.40,139.64 L237.40,139.78 L238.40,139.93 L239.40,140.08 L240.40,140.23 L241.40,140.38 L242.40,140.54 L243.40,140.70 L244.40,140.86 L245.40,141.02 L246.40,141.17 L247.40,141.33 L248.40,141.49 L249.40,141.65 L250.40,141.81 L251.40,141.97 L252.40,142.13 L253.40,142.30 L254.40,142.46 L255.40,142.63 L256.40,142.80 L257.40,142.97 L258.40,143.14 L259.40,143.31 L260.40,143.48 L261.40,143.65 L262.40,143.82 L263.40,144.00 L264.40,144.18 L265.40,144.36 L266.40,144.54 L267.40,144.72 L268.40,144.91 L269.40,145.09 L270.40,145.28 L271.40,145.47 L272.40,145.66 L273.40,145.85 L274.40,146.04 L275.40,146.22 L276.40,146.41 L277.40,146.59 L278.40,146.78 L279.40,146.96 L280.40,147.15 L281.40,147.33 L282.40,147.52 L283.40,147.71 L284.40,147.89 L285.40,148.07 L286.40,148.25 L287.40,148.43 L288.40,148.61 L289.40,148.79 L290.40,148.98 L291.40,149.18 L292.40,149.39 L293.40,149.60 L294.40,149.82 L295.40,150.04 L296.40,150.27 L297.40,150.50 L298.40,150.74 L299.40,150.98 L300.40,151.22 L301.40,151.47 L302.40,151.72 L303.40,151.97 L304.40,152.23 L305.40,152.50 L306.40,152.76 L307.40,153.03 L308.40,153.29 L309.40,153.55 L310.40,153.82 L311.40,154.08 L312.40,154.34 L313.40,154.60 L314.40,154.86 L315.40,155.14 L316.40,155.42 L317.40,155.71 L318.40,156.00 L319.40,156.31 L320.40,156.62 L321.40,156.94 L322.40,157.25 L323.40,157.55 L324.40,157.87 L325.40,158.21 L326.40,158.57 L327.40,158.94 L328.40,159.33 L329.40,159.72 L330.40,160.12 L331.40,160.52 L332.40,160.92 L333.40,161.31 L334.40,161.68 L335.40,162.04 L336.40,162.39 L337.40,162.72 L338.40,163.04 L339.40,163.36 L340.40,163.68 L341.40,163.99 L342.40,164.32 L343.40,164.66 L344.40,165.00 L345.40,165.37 L346.40,165.76 L347.40,166.16 L348.40,166.59 L349.40,167.03 L350.40,167.49 L351.40,167.96 L352.40,168.43 L353.40,168.92 L354.40,169.41 L355.40,169.90 L356.40,170.40 L357.40,170.91 L358.40,171.44 L359.40,171.97 L360.40,172.52 L361.40,173.06 L362.40,173.61 L363.40,174.16 L364.40,174.70 L365.40,175.25 L366.40,175.79 L367.40,176.34 L368.40,176.89 L369.40,177.44 L370.40,178.00 L371.40,178.55 L372.40,179.12 L373.40,179.68 L374.40,180.26 L375.40,180.83 L376.40,181.42 L377.40,182.01 L378.40,182.61 L379.40,183.22 L380.40,183.84 L381.40,184.46 L382.40,185.10 L383.40,185.75 L384.40,186.42 L385.40,187.10 L386.40,187.80 L387.40,188.51 L388.40,189.23 L389.40,189.96 L390.40,190.70 L391.40,191.45 L392.40,192.20 L393.40,192.96 L394.40,193.73 L395.40,194.51 L396.40,195.29 L397.40,196.08 L398.40,196.89 L399.40,197.70 L400.40,198.51 L401.40,199.34 L402.40,200.18 L403.40,201.02 L404.40,201.88 L405.40,202.74 L406.40,203.61 L406.50,203.70" fill="none" stroke="rgb(255,246,120)" stroke-width="1.0" shape-rendering="crispEdges"/>
<path d="M414.5,0.5 H24.5 V241.5 H414.5" fill="none" stroke="#dcdcdc" stroke-width="1" shape-rendering="crispEdges"/>
<path d="M414.5,0.0 V242.0" fill="none" stroke="#e2e2e2" stroke-width="1" shape-rendering="crispEdges"/>
<path d="M32,239h1v3h-1zM32,0h1v3h-1zM51,240h1v2h-1zM51,0h1v2h-1zM69,240h1v2h-1zM69,0h1v2h-1zM88,240h1v2h-1zM88,0h1v2h-1zM107,240h1v2h-1zM107,0h1v2h-1zM125,239h1v3h-1zM125,0h1v3h-1zM144,240h1v2h-1zM144,0h1v2h-1zM163,240h1v2h-1zM163,0h1v2h-1zM182,240h1v2h-1zM182,0h1v2h-1zM200,240h1v2h-1zM200,0h1v2h-1zM219,239h1v3h-1zM219,0h1v3h-1zM238,240h1v2h-1zM238,0h1v2h-1zM257,240h1v2h-1zM257,0h1v2h-1zM275,240h1v2h-1zM275,0h1v2h-1zM294,240h1v2h-1zM294,0h1v2h-1zM313,239h1v3h-1zM313,0h1v3h-1zM331,240h1v2h-1zM331,0h1v2h-1zM350,240h1v2h-1zM350,0h1v2h-1zM369,240h1v2h-1zM369,0h1v2h-1zM388,240h1v2h-1zM388,0h1v2h-1zM406,239h1v3h-1zM406,0h1v3h-1zM24,4h2v1h-2zM413,4h2v1h-2zM24,11h3v1h-3zM412,11h3v1h-3zM24,18h2v1h-2zM413,18h2v1h-2zM24,25h2v1h-2zM413,25h2v1h-2zM24,32h2v1h-2zM413,32h2v1h-2zM24,39h2v1h-2zM413,39h2v1h-2zM24,46h3v1h-3zM412,46h3v1h-3zM24,53h2v1h-2zM413,53h2v1h-2zM24,60h2v1h-2zM413,60h2v1h-2zM24,67h2v1h-2zM413,67h2v1h-2zM24,74h2v1h-2zM413,74h2v1h-2zM24,81h3v1h-3zM412,81h3v1h-3zM24,88h2v1h-2zM413,88h2v1h-2zM24,94h2v1h-2zM413,94h2v1h-2zM24,101h2v1h-2zM413,101h2v1h-2zM24,108h2v1h-2zM413,108h2v1h-2zM24,115h3v1h-3zM412,115h3v1h-3zM24,122h2v1h-2zM413,122h2v1h-2zM24,129h2v1h-2zM413,129h2v1h-2zM24,136h2v1h-2zM413,136h2v1h-2zM24,143h2v1h-2zM413,143h2v1h-2zM24,150h3v1h-3zM412,150h3v1h-3zM24,157h2v1h-2zM413,157h2v1h-2zM24,164h2v1h-2zM413,164h2v1h-2zM24,171h2v1h-2zM413,171h2v1h-2zM24,178h2v1h-2zM413,178h2v1h-2zM24,185h3v1h-3zM412,185h3v1h-3zM24,192h2v1h-2zM413,192h2v1h-2zM24,199h2v1h-2zM413,199h2v1h-2zM24,206h2v1h-2zM413,206h2v1h-2zM24,213h2v1h-2zM413,213h2v1h-2zM24,219h3v1h-3zM412,219h3v1h-3zM24,226h2v1h-2zM413,226h2v1h-2zM24,233h2v1h-2zM413,233h2v1h-2zM24,240h2v1h-2zM413,240h2v1h-2z" fill="#cacaca" shape-rendering="crispEdges"/>
<g font-family="Liberation Serif, serif" font-size="14" fill="#0000ff" letter-spacing="-0.42"><text transform="translate(22.9,16) scale(1.01,0.96)" text-anchor="end" text-rendering="geometricPrecision" style="will-change:transform">0.50</text><text transform="translate(22.4,51) scale(1.01,0.96)" text-anchor="end" text-rendering="geometricPrecision" style="will-change:transform">0.45</text><text transform="translate(22.9,86) scale(1.04,0.96)" text-anchor="end" text-rendering="geometricPrecision" style="will-change:transform">0.40</text><text transform="translate(22.4,120) scale(0.985,0.96)" text-anchor="end" text-rendering="geometricPrecision" style="will-change:transform">0.35</text><text transform="translate(22.9,155) scale(1.01,0.96)" text-anchor="end" text-rendering="geometricPrecision" style="will-change:transform">0.30</text><text transform="translate(22.4,189) scale(1.01,0.96)" text-anchor="end" text-rendering="geometricPrecision" style="will-change:transform">0.25</text><text transform="translate(22.9,225) scale(1.04,0.96)" text-anchor="end" text-rendering="geometricPrecision" style="will-change:transform">0.20</text><text transform="translate(32.30,255) scale(1.01,0.96)" text-anchor="middle" letter-spacing="0" text-rendering="geometricPrecision" style="will-change:transform">0</text><text transform="translate(125.45,255) scale(0.85,0.96)" text-anchor="middle" letter-spacing="0" text-rendering="geometricPrecision" style="will-change:transform">1</text><text transform="translate(219.95,255) scale(0.96,0.96)" text-anchor="middle" letter-spacing="0" text-rendering="geometricPrecision" style="will-change:transform">2</text><text transform="translate(312.95,255) scale(0.97,0.96)" text-anchor="middle" letter-spacing="0" text-rendering="geometricPrecision" style="will-change:transform">3</text><text transform="translate(406.60,255) scale(1.0,0.96)" text-anchor="middle" letter-spacing="0" text-rendering="geometricPrecision" style="will-change:transform">4</text></g>
</svg>
</body></html>
